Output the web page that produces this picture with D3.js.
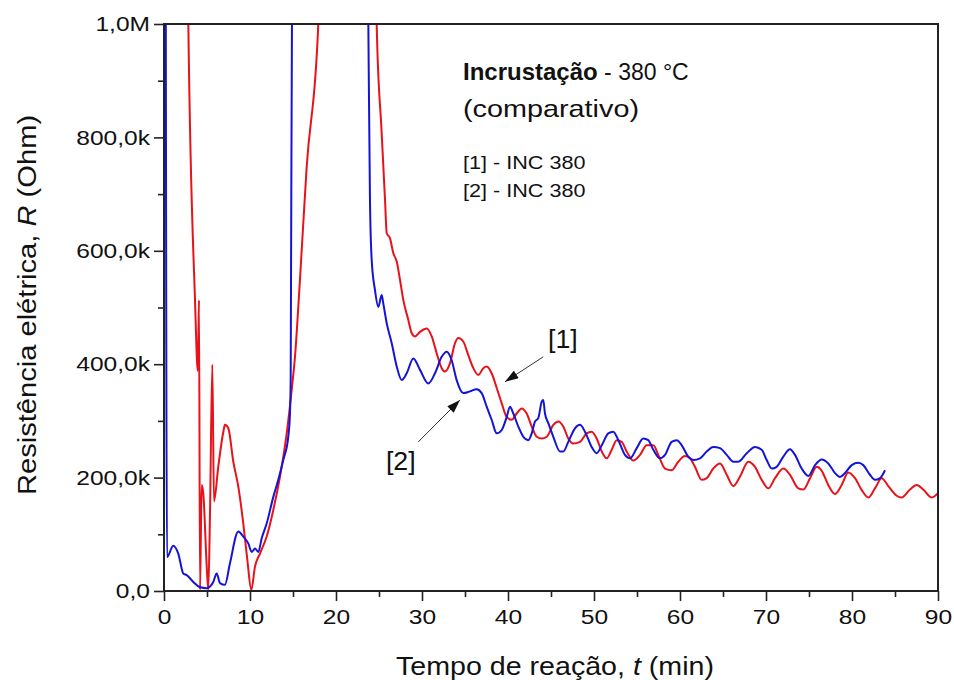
<!DOCTYPE html>
<html><head><meta charset="utf-8">
<script src="https://cdn.jsdelivr.net/npm/d3@7"></script>
<style>body{margin:0;background:#fff} text{font-family:Arial,"Liberation Sans",sans-serif;fill:#111}</style>
</head><body><svg id="c" width="954" height="680"></svg>
<script>
// Time (min) and resistance (kOhm) — series [2] (blue)
const blueT = [0.2,0.35,1.08,1.66,2.24,2.64,3.41,4.19,4.97,5.35,5.73,6.13,6.51,7.09,7.67,8.64,9.22,9.80,10.20,10.58,10.97,11.36,11.94,12.71,13.29,13.87,14.45,14.65,14.73,14.77,14.88,15.0,
 23.7,23.76,23.95,24.15,24.53,24.92,25.31,25.50,25.90,26.48,27.06,27.64,28.22,28.99,29.77,30.73,31.51,32.29,32.87,33.45,34.03,34.80,35.58,36.36,36.94,37.52,38.10,38.69,39.27,39.85,40.23,40.62,41.20,41.78,42.36,42.76,43.14,43.52,43.92,44.10,44.30,44.69,45.27,46.05,46.43,47.01,47.79,48.37,48.95,49.73,50.31,50.90,51.66,52.24,52.83,53.60,54.19,54.97,55.73,56.31,56.90,57.67,58.26,59.03,59.62,60.20,60.97,61.55,62.33,63.10,63.87,64.65,65.43,66.20,66.78,67.76,68.72,69.50,70.08,70.66,71.24,72.01,72.79,73.37,74.15,74.92,75.70,76.48,77.24,78.02,78.60,79.19,79.97,80.73,81.31,82.09,82.67,83.26,83.84];
const blueR = [1100,60,80,66,31,28,16,6.5,5,8,16,31,14,11,49,105,96,84,69,75,69,93,119,166,196,231,272,314,372,549,1000,1100,
 1100,1000,690,584,531,501,522,507,472,437,396,372,384,410,390,366,384,413,422,407,372,349,352,356,349,325,302,278,284,307,325,313,290,272,266,278,299,305,334,337,313,296,272,246,246,263,287,293,281,254,243,257,278,281,266,240,234,252,269,266,249,234,240,263,266,257,237,231,234,246,254,252,240,228,228,243,254,249,231,216,219,237,250,240,216,203,222,232,225,208,201,208,222,226,222,205,196,199,213];
// series [1] (red)
const redT = [2.75,2.83,3.60,3.93,4.07,4.19,4.38,4.57,4.97,5.15,5.35,5.62,5.81,6.31,6.90,7.09,7.48,8.06,8.64,9.22,9.69,10.15,10.58,11.16,11.94,12.71,13.49,14.27,14.85,15.23,15.81,16.59,17.94,18.1,
 24.7,24.73,25.31,25.70,25.90,26.28,26.66,27.06,27.44,27.83,28.41,28.80,29.19,29.77,30.55,31.13,31.71,32.29,32.67,33.26,33.84,34.22,34.80,35.38,35.97,36.55,37.13,37.52,38.10,38.69,39.27,39.85,40.43,41.01,41.59,42.17,42.76,43.34,43.92,44.50,45.27,45.85,46.43,47.01,47.59,48.37,49.15,49.73,50.31,50.90,51.48,52.06,52.64,53.22,53.80,54.57,55.35,56.13,56.90,57.48,58.26,59.03,59.80,60.58,61.16,61.74,62.52,63.10,63.87,64.65,65.43,66.20,66.98,67.94,68.72,69.50,70.27,71.05,72.01,72.79,73.76,74.34,75.12,75.90,76.48,77.24,78.02,78.80,79.57,80.35,81.13,81.90,82.67,83.45,84.22,85.20,85.76,86.74,87.52,88.29,89.27,90.03];
const redR = [1100,1000,516,388,513,2,187,172,43,2,138,399,158,219,281,293,287,228,184,119,55,2,43,66,96,143,202,278,355,413,549,748,1000,1100,
 1100,1000,808,690,631,622,596,581,549,513,478,455,449,457,463,449,419,393,387,402,437,446,440,416,393,381,393,396,384,358,331,307,302,313,322,313,290,272,269,272,293,299,290,269,260,263,278,281,269,246,234,249,266,263,246,230,240,257,257,240,216,213,228,238,234,219,196,199,216,225,205,185,202,228,219,196,181,199,216,205,181,179,199,219,212,187,171,187,209,199,178,165,181,199,185,168,165,179,187,179,165,173];

const xMajor = [0,10,20,30,40,50,60,70,80,90];
const xMinor = [5,15,25,35,45,55,65,75,85];
const yMajor = [0,200,400,600,800,1000];
const yMajorLabels = ["0,0","200,0k","400,0k","600,0k","800,0k","1,0M"];
const yMinor = [100,300,500,700,900];
const titleBold = "Incrustação", titleRest = " - 380 °C", subtitle = "(comparativo)";
const legendLines = ["[1] - INC 380","[2] - INC 380"];
const annotations = [
  {label:"[1]", tx:44.65, tr:428, from:[44.1,413], to:[39.65,369]},
  {label:"[2]", tx:25.8, tr:213, from:[29.57,263], to:[34.42,337]}
];

const svg = d3.select("#c");
const x = d3.scaleLinear().domain([0,90]).range([164,938]);
const y = d3.scaleLinear().domain([0,1000]).range([591,24]);
const SX = 1.17; // horizontal stretch of the reference's lettering

svg.append("defs").append("clipPath").attr("id","clip").append("rect")
  .attr("x",164).attr("y",24).attr("width",774).attr("height",567);
const mk = svg.select("defs").append("marker").attr("id","arr").attr("viewBox","0 0 12 8")
  .attr("refX",12).attr("refY",4).attr("markerWidth",14).attr("markerHeight",9)
  .attr("markerUnits","userSpaceOnUse").attr("orient","auto");
mk.append("path").attr("d","M0,0L12,4L0,8Z").attr("fill","#111");

const line = d3.line().x(d=>x(d[0])).y(d=>y(d[1])).curve(d3.curveMonotoneX);
const g = svg.append("g").attr("clip-path","url(#clip)");
g.append("path").datum(redT.map((t,i)=>[t,redR[i]])).attr("d",line)
  .attr("fill","none").attr("stroke","#e8121a").attr("stroke-width",2).attr("stroke-linejoin","round");
g.append("path").datum(blueT.map((t,i)=>[t,blueR[i]])).attr("d",line)
  .attr("fill","none").attr("stroke","#1414d8").attr("stroke-width",2).attr("stroke-linejoin","round");

// axes
function styleAxis(sel){ sel.select(".domain").remove(); sel.selectAll("line").attr("stroke","#222").attr("stroke-width",1.6); sel.selectAll("text").attr("font-size",21).attr("fill","#111"); }
const xa = svg.append("g").attr("transform","translate(0,591)")
  .call(d3.axisBottom(x).tickValues(xMajor).tickSize(10).tickPadding(8).tickFormat(d3.format("d"))).call(styleAxis);
xa.selectAll("text").attr("transform",`scale(${SX},1)`);
svg.append("g").attr("transform","translate(0,591)")
  .call(d3.axisBottom(x).tickValues(xMinor).tickSize(6).tickFormat("")).call(styleAxis);
const ya = svg.append("g").attr("transform","translate(164,0)")
  .call(d3.axisLeft(y).tickValues(yMajor).tickSize(10).tickPadding(4).tickFormat((d,i)=>yMajorLabels[i])).call(styleAxis);
ya.selectAll("text").attr("x",-14/SX).attr("transform",`scale(${SX},1)`);
svg.append("g").attr("transform","translate(164,0)")
  .call(d3.axisLeft(y).tickValues(yMinor).tickSize(6).tickFormat("")).call(styleAxis);
svg.append("rect").attr("x",164).attr("y",24).attr("width",774).attr("height",567)
  .attr("fill","none").attr("stroke","#222").attr("stroke-width",2);

function sText(px,py,size,sx,rot){
  return svg.append("g").attr("transform",`translate(${px},${py})${rot?" rotate("+rot+")":""} scale(${sx},1)`)
    .append("text").attr("font-size",size);
}
// axis titles
const xt = sText(555,675,26,1.1).attr("text-anchor","middle");
xt.append("tspan").text("Tempo de reação, ");
xt.append("tspan").attr("font-style","italic").text("t");
xt.append("tspan").text(" (min)");
const yt = sText(36,305,26,1.12,-90).attr("text-anchor","middle");
yt.append("tspan").text("Resistência elétrica, ");
yt.append("tspan").attr("font-style","italic").text("R");
yt.append("tspan").text(" (Ohm)");

// title & legend
const tt = svg.append("text").attr("x",463).attr("y",80).attr("font-size",24);
tt.append("tspan").attr("font-weight","bold").text(titleBold);
tt.append("tspan").attr("font-size",23).text(titleRest);
sText(463,117,24,1.2).text(subtitle);
legendLines.forEach((s,i)=>sText(463,169+i*27.5,18,1.2).text(s));

// annotations
annotations.forEach(a=>{
  svg.append("line").attr("x1",x(a.from[0])).attr("y1",y(a.from[1])).attr("x2",x(a.to[0])).attr("y2",y(a.to[1]))
    .attr("stroke","#333").attr("stroke-width",1).attr("marker-end","url(#arr)");
  sText(x(a.tx),y(a.tr),25,1.07).text(a.label);
});
</script></body></html>
